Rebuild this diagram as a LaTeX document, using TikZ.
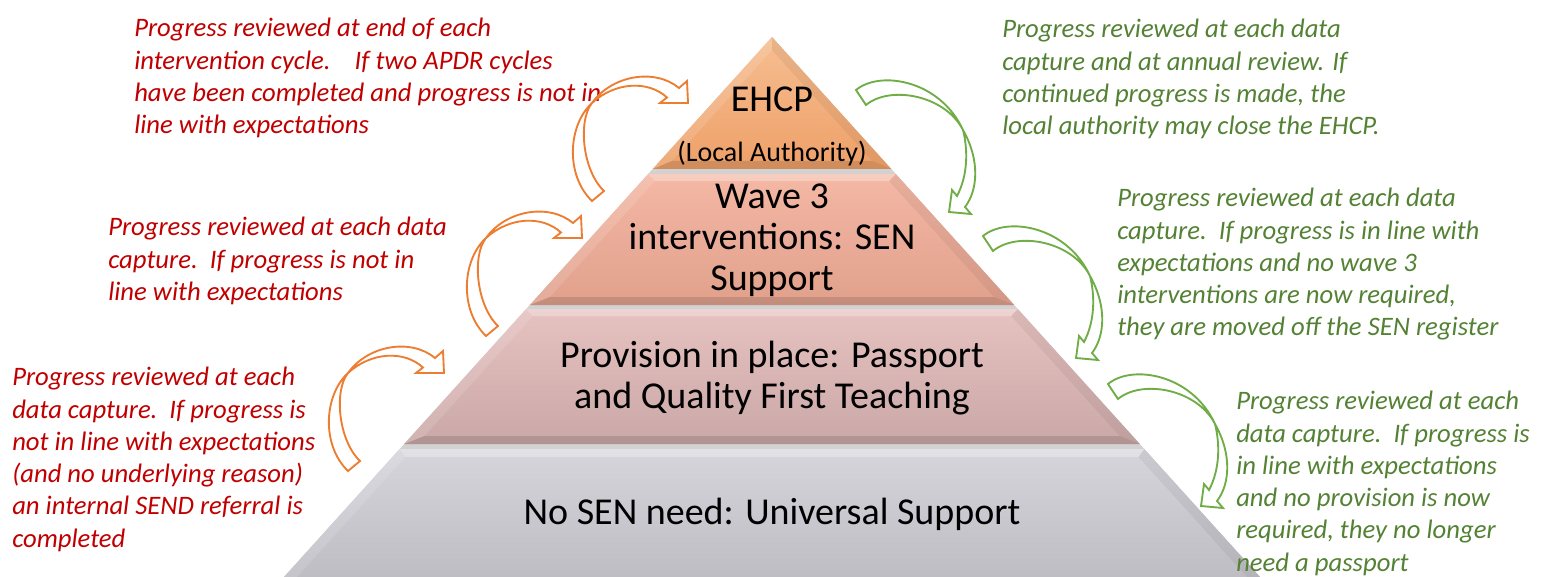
\documentclass[tikz,border=0pt]{standalone}
\usepackage{fontspec}
\setmainfont{Carlito}
\usepackage{tikz}

\definecolor{notered}{RGB}{192,0,0}
\definecolor{notegreen}{RGB}{84,130,53}
\definecolor{arroworange}{RGB}{237,125,49}
\definecolor{arrowgreen}{RGB}{112,173,71}
\definecolor{ehcptop}{RGB}{246,190,145}
\definecolor{ehcpbot}{RGB}{238,160,104}
\definecolor{wavetop}{RGB}{244,184,164}
\definecolor{wavebot}{RGB}{224,160,140}
\definecolor{provtop}{RGB}{230,194,192}
\definecolor{provbot}{RGB}{202,168,167}
\definecolor{basetop}{RGB}{214,213,220}
\definecolor{basebot}{RGB}{190,189,196}
\definecolor{gapgrey}{RGB}{210,210,210}

\tikzset{
  tiertext/.style={font=\fontsize{28.5}{30.75}\selectfont, align=center, inner sep=0pt},
  redtext/.style={font=\fontsize{20}{24.2}\selectfont\itshape, text=notered, align=left, anchor=north west, inner sep=0pt},
  greentext/.style={font=\fontsize{20}{24.2}\selectfont\itshape, text=notegreen, align=left, anchor=north west, inner sep=0pt},
  uparrow/.style={draw=arroworange, fill=white, line width=1.4pt},
  downarrow/.style={draw=arrowgreen, fill=white, line width=1.4pt},
  facetlight/.style={fill=white, fill opacity=0.3},
  facetside/.style={fill=white, fill opacity=0.12},
  facetdark/.style={fill=black, fill opacity=0.12},
  facetshade/.style={fill=black, fill opacity=0.05},
}

\begin{document}
\begin{tikzpicture}[x=0.75pt,y=0.75pt,yscale=-1,xscale=1]
\useasboundingbox (0,0) rectangle (1544,577);

%Shape: pyramid outline, shows through between the tiers
\fill [gapgrey] (772,37) -- (1260,577) -- (284,577) -- cycle ;

%Shape: tier 1
\shade [top color=ehcptop, bottom color=ehcpbot] (772,37) -- (891.3,169) -- (652.7,169) -- cycle ;
\fill [facetdark] (652.7,169) -- (891.3,169) -- (872.1,161) -- (671.9,161) -- cycle ;
\fill [facetside] (772,37) -- (772,50) -- (671.9,161) -- (652.7,169) -- cycle ;
\fill [facetshade] (772,37) -- (772,50) -- (872.1,161) -- (891.3,169) -- cycle ;

%Shape: tier 2
\shade [top color=wavetop, bottom color=wavebot] (648.2,174) -- (895.8,174) -- (1014.2,305) -- (529.8,305) -- cycle ;
\fill [facetlight] (648.2,174) -- (895.8,174) -- (889.1,181) -- (654.9,181) -- cycle ;
\fill [facetdark] (529.8,305) -- (1014.2,305) -- (994,297) -- (550,297) -- cycle ;
\fill [facetside] (648.2,174) -- (654.9,181) -- (550,297) -- (529.8,305) -- cycle ;
\fill [facetshade] (895.8,174) -- (889.1,181) -- (994,297) -- (1014.2,305) -- cycle ;

%Shape: tier 3
\shade [top color=provtop, bottom color=provbot] (526.2,309) -- (1017.8,309) -- (1139.8,444) -- (404.2,444) -- cycle ;
\fill [facetlight] (526.2,309) -- (1017.8,309) -- (1011.1,316) -- (532.9,316) -- cycle ;
\fill [facetdark] (404.2,444) -- (1139.8,444) -- (1119.6,436) -- (424.4,436) -- cycle ;
\fill [facetside] (526.2,309) -- (532.9,316) -- (424.4,436) -- (404.2,444) -- cycle ;
\fill [facetshade] (1017.8,309) -- (1011.1,316) -- (1119.6,436) -- (1139.8,444) -- cycle ;

%Shape: tier 4
\shade [top color=basetop, bottom color=basebot] (399.7,449) -- (1144.3,449) -- (1260,577) -- (284,577) -- cycle ;
\fill [facetlight] (399.7,449) -- (1144.3,449) -- (1138.6,457) -- (405.4,457) -- cycle ;
\fill [facetside] (399.7,449) -- (405.4,457) -- (297,577) -- (284,577) -- cycle ;
\fill [facetshade] (1144.3,449) -- (1138.6,457) -- (1247,577) -- (1260,577) -- cycle ;

% Text Node
\draw (772,111.5) node (ehcp) [tiertext, anchor=base] {EHCP};
% Text Node
\draw (772,161.5) node (la) [tiertext, anchor=base, font=\fontsize{21}{24}\selectfont] {(Local Authority)};
% Text Node
\draw (772,184) node (wave) [tiertext, anchor=north] {Wave 3\\interventions: SEN\\Support};
% Text Node
\draw (772,341) node (prov) [tiertext, anchor=north] {Provision in place: Passport\\and Quality First Teaching};
% Text Node
\draw (772,524) node (nosen) [tiertext, anchor=base] {No SEN need: Universal Support};

% Text Node
\draw (134,18) node (redA) [redtext] {Progress reviewed at end of each\\intervention cycle.\ \ \ \ If two APDR cycles\\have been completed and progress is not in\\line with expectations};
% Text Node
\draw (108,217) node (redB) [redtext] {Progress reviewed at each data\\capture.\ \ If progress is not in\\line with expectations};
% Text Node
\draw (12,367) node (redC) [redtext] {Progress reviewed at each\\data capture.\ \ If progress is\\not in line with expectations\\(and no underlying reason)\\an internal SEND referral is\\completed};
% Text Node
\draw (1002,19) node (greenA) [greentext] {Progress reviewed at each data\\capture and at annual review. If\\continued progress is made, the\\local authority may close the EHCP.};
% Text Node
\draw (1117,188) node (greenB) [greentext] {Progress reviewed at each data\\capture.\ \ If progress is in line with\\expectations and no wave 3\\interventions are now required,\\they are moved off the SEN register};
% Text Node
\draw (1236,391) node (greenC) [greentext] {Progress reviewed at each\\data capture.\ \ If progress is\\in line with expectations\\and no provision is now\\required, they no longer\\need a passport};

%Curved Arrow: up into EHCP
\draw [uparrow] (592,201) .. controls (565,175) and (568,125) .. (592,103) .. controls (612,75) and (655,68) .. (679,88) -- (687,81) -- (688,103) -- (660,103) -- (667,97.5) .. controls (648,80) and (615,82) .. (592,103) .. controls (578,120) and (582,170) .. (604,191) -- cycle ;
%Curved Arrow: up into wave 3
\draw [uparrow] (486,336) .. controls (459,310) and (462,260) .. (486,238) .. controls (506,210) and (549,203) .. (573,223) -- (581,216) -- (582,238) -- (554,238) -- (561,232.5) .. controls (542,215) and (509,217) .. (486,238) .. controls (472,255) and (476,305) .. (498,326) -- cycle ;
%Curved Arrow: up into provision
\draw [uparrow] (348,471) .. controls (321,445) and (324,395) .. (348,373) .. controls (368,345) and (411,338) .. (435,358) -- (443,351) -- (444,373) -- (416,373) -- (423,367.5) .. controls (404,350) and (371,352) .. (348,373) .. controls (334,390) and (338,440) .. (360,461) -- cycle ;

%Curved Arrow: down out of EHCP
\draw [downarrow] (856,90) .. controls (880,70) and (940,80) .. (963,130) .. controls (980,160) and (978,190) .. (965,207) -- (971,214) -- (949,212) -- (952,190) -- (957,196) .. controls (968,175) and (968,150) .. (963,130) .. controls (945,95) and (890,85) .. (866,105) -- cycle ;
%Curved Arrow: down out of wave 3
\draw [downarrow] (983,236) .. controls (1007,216) and (1067,226) .. (1090,276) .. controls (1107,306) and (1105,336) .. (1092,353) -- (1098,360) -- (1076,358) -- (1079,336) -- (1084,342) .. controls (1095,321) and (1095,296) .. (1090,276) .. controls (1072,241) and (1017,231) .. (993,251) -- cycle ;
%Curved Arrow: down out of provision
\draw [downarrow] (1108,384) .. controls (1132,364) and (1192,374) .. (1215,424) .. controls (1232,454) and (1230,484) .. (1217,501) -- (1223,508) -- (1201,506) -- (1204,484) -- (1209,490) .. controls (1220,469) and (1220,444) .. (1215,424) .. controls (1197,389) and (1142,379) .. (1118,399) -- cycle ;

\end{tikzpicture}
\end{document}
